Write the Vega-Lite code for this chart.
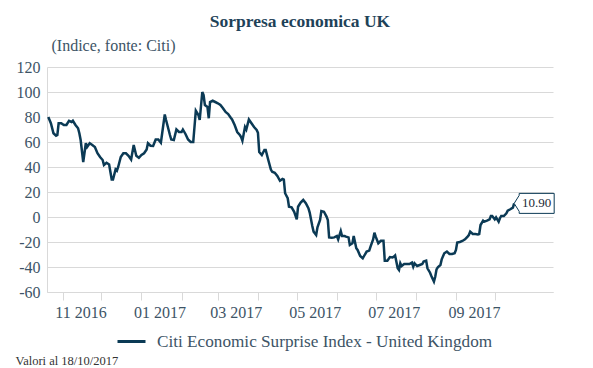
{
"$schema": "https://vega.github.io/schema/vega-lite/v6.json",
"width": 506, "height": 225,
"autosize": {"type": "none"},
"padding": {"left": 47, "top": 67, "right": 40, "bottom": 76},
"background": "white",
"config": {"font": "Liberation Serif", "view": {"stroke": null},
  "axis": {"labelFont": "Liberation Serif", "titleFont": "Liberation Serif"},
  "legend": {"labelFont": "Liberation Serif", "titleFont": "Liberation Serif"},
  "text": {"font": "Liberation Serif"}},
"title": {"text": "Sorpresa economica UK", "font": "Liberation Serif", "fontSize": 17.5, "fontWeight": "bold", "color": "#1e4258", "anchor": "middle", "frame": "group", "baseline": "alphabetic", "offset": 12, "dy": 19},
"data": {"values": [
{"date":"2016-10-21","value":80},{"date":"2016-10-23","value":75},{"date":"2016-10-25","value":67},{"date":"2016-10-27","value":65},{"date":"2016-10-28","value":65.6},{"date":"2016-10-29","value":75},{"date":"2016-10-31","value":75},
{"date":"2016-11-02","value":73.6},{"date":"2016-11-04","value":73.6},{"date":"2016-11-06","value":77},{"date":"2016-11-08","value":76},{"date":"2016-11-09","value":77},{"date":"2016-11-11","value":73.6},{"date":"2016-11-13","value":71},{"date":"2016-11-14","value":67},{"date":"2016-11-15","value":61.6},{"date":"2016-11-17","value":44},{"date":"2016-11-19","value":59},{"date":"2016-11-20","value":56},{"date":"2016-11-22","value":59},{"date":"2016-11-24","value":57.6},{"date":"2016-11-26","value":56},{"date":"2016-11-28","value":51},{"date":"2016-11-30","value":48},
{"date":"2016-12-02","value":45.6},{"date":"2016-12-03","value":41.6},{"date":"2016-12-05","value":43.4},{"date":"2016-12-07","value":42},{"date":"2016-12-09","value":30},{"date":"2016-12-10","value":30},{"date":"2016-12-12","value":38},{"date":"2016-12-13","value":37},{"date":"2016-12-14","value":40},{"date":"2016-12-16","value":48},{"date":"2016-12-18","value":51},{"date":"2016-12-20","value":51},{"date":"2016-12-22","value":49},{"date":"2016-12-24","value":46},{"date":"2016-12-26","value":57.6},{"date":"2016-12-28","value":49},{"date":"2016-12-30","value":47.4},
{"date":"2017-01-01","value":49.6},{"date":"2017-01-03","value":51},{"date":"2017-01-05","value":54},{"date":"2017-01-06","value":59},{"date":"2017-01-08","value":57},{"date":"2017-01-10","value":56.8},{"date":"2017-01-12","value":62},{"date":"2017-01-14","value":62},{"date":"2017-01-16","value":59.4},{"date":"2017-01-17","value":67},{"date":"2017-01-19","value":82},{"date":"2017-01-20","value":77.6},{"date":"2017-01-23","value":65.6},{"date":"2017-01-24","value":62},{"date":"2017-01-26","value":61.6},{"date":"2017-01-28","value":70},{"date":"2017-01-30","value":68},
{"date":"2017-02-01","value":68},{"date":"2017-02-02","value":70},{"date":"2017-02-04","value":66.4},{"date":"2017-02-06","value":62},{"date":"2017-02-08","value":60},{"date":"2017-02-10","value":60},{"date":"2017-02-12","value":85},{"date":"2017-02-14","value":81.6},{"date":"2017-02-15","value":77.6},{"date":"2017-02-17","value":100},{"date":"2017-02-18","value":97.6},{"date":"2017-02-19","value":89.6},{"date":"2017-02-21","value":88},{"date":"2017-02-22","value":79},{"date":"2017-02-23","value":92},{"date":"2017-02-25","value":93},{"date":"2017-02-27","value":92},
{"date":"2017-03-01","value":91},{"date":"2017-03-03","value":89.6},{"date":"2017-03-05","value":87},{"date":"2017-03-07","value":84},{"date":"2017-03-09","value":82.4},{"date":"2017-03-11","value":79.4},{"date":"2017-03-12","value":78},{"date":"2017-03-14","value":73.6},{"date":"2017-03-16","value":68},{"date":"2017-03-18","value":65.6},{"date":"2017-03-19","value":64},{"date":"2017-03-20","value":61},{"date":"2017-03-22","value":72},{"date":"2017-03-23","value":70},{"date":"2017-03-25","value":78},{"date":"2017-03-27","value":75},{"date":"2017-03-29","value":72},{"date":"2017-03-31","value":69.6},
{"date":"2017-04-01","value":67.4},{"date":"2017-04-02","value":52},{"date":"2017-04-04","value":49.6},{"date":"2017-04-06","value":53.6},{"date":"2017-04-07","value":53.6},{"date":"2017-04-09","value":45.6},{"date":"2017-04-11","value":38},{"date":"2017-04-12","value":36.2},{"date":"2017-04-14","value":35.4},{"date":"2017-04-16","value":32.8},{"date":"2017-04-18","value":29},{"date":"2017-04-20","value":30.5},{"date":"2017-04-21","value":30},{"date":"2017-04-22","value":19},{"date":"2017-04-24","value":15},{"date":"2017-04-25","value":8.2},{"date":"2017-04-27","value":7.7},{"date":"2017-04-29","value":4.2},
{"date":"2017-05-01","value":-1.9},{"date":"2017-05-02","value":8.2},{"date":"2017-05-04","value":11.5},{"date":"2017-05-06","value":13.6},{"date":"2017-05-08","value":11},{"date":"2017-05-10","value":7},{"date":"2017-05-11","value":3.5},{"date":"2017-05-13","value":-7.2},{"date":"2017-05-14","value":-11.7},{"date":"2017-05-16","value":-14.4},{"date":"2017-05-17","value":-8.3},{"date":"2017-05-19","value":-2.4},{"date":"2017-05-20","value":4.8},{"date":"2017-05-22","value":4.2},{"date":"2017-05-24","value":0.3},{"date":"2017-05-25","value":-2.4},{"date":"2017-05-26","value":-16.3},{"date":"2017-05-28","value":-16.5},{"date":"2017-05-30","value":-16.3},
{"date":"2017-06-01","value":-15.2},{"date":"2017-06-02","value":-17.9},{"date":"2017-06-04","value":-11.2},{"date":"2017-06-05","value":-15.2},{"date":"2017-06-07","value":-15.2},{"date":"2017-06-08","value":-15.7},{"date":"2017-06-10","value":-16.3},{"date":"2017-06-11","value":-22.4},{"date":"2017-06-13","value":-21},{"date":"2017-06-14","value":-15.2},{"date":"2017-06-16","value":-25},{"date":"2017-06-17","value":-26.4},{"date":"2017-06-19","value":-31.2},{"date":"2017-06-21","value":-33},{"date":"2017-06-22","value":-31.2},{"date":"2017-06-24","value":-27.7},{"date":"2017-06-26","value":-26.9},{"date":"2017-06-27","value":-23.7},{"date":"2017-06-29","value":-17.9},{"date":"2017-06-30","value":-12.5},
{"date":"2017-07-01","value":-15.7},{"date":"2017-07-03","value":-21},{"date":"2017-07-05","value":-19},{"date":"2017-07-07","value":-19},{"date":"2017-07-08","value":-35},{"date":"2017-07-10","value":-35},{"date":"2017-07-12","value":-32},{"date":"2017-07-14","value":-32.3},{"date":"2017-07-15","value":-31.8},{"date":"2017-07-16","value":-30.8},{"date":"2017-07-18","value":-41},{"date":"2017-07-19","value":-42.4},{"date":"2017-07-20","value":-37},{"date":"2017-07-21","value":-39.2},{"date":"2017-07-23","value":-37.6},{"date":"2017-07-25","value":-37.6},{"date":"2017-07-27","value":-37.6},{"date":"2017-07-29","value":-36.5},{"date":"2017-07-30","value":-39.7},{"date":"2017-07-31","value":-37},
{"date":"2017-08-02","value":-39.2},{"date":"2017-08-04","value":-38.4},{"date":"2017-08-06","value":-37.6},{"date":"2017-08-07","value":-35.7},{"date":"2017-08-09","value":-35},{"date":"2017-08-10","value":-41},{"date":"2017-08-12","value":-44.6},{"date":"2017-08-13","value":-47.2},{"date":"2017-08-15","value":-51.7},{"date":"2017-08-16","value":-47.8},{"date":"2017-08-17","value":-41.9},{"date":"2017-08-18","value":-40.2},{"date":"2017-08-20","value":-38.4},{"date":"2017-08-21","value":-33.9},{"date":"2017-08-23","value":-29},{"date":"2017-08-25","value":-27.7},{"date":"2017-08-27","value":-29.6},{"date":"2017-08-29","value":-29.6},{"date":"2017-08-31","value":-29},
{"date":"2017-09-01","value":-26.4},{"date":"2017-09-02","value":-20.5},{"date":"2017-09-04","value":-20},{"date":"2017-09-06","value":-19.2},{"date":"2017-09-08","value":-17.9},{"date":"2017-09-10","value":-15.7},{"date":"2017-09-11","value":-14.4},{"date":"2017-09-12","value":-11.7},{"date":"2017-09-14","value":-13.6},{"date":"2017-09-16","value":-13.6},{"date":"2017-09-18","value":-13.9},{"date":"2017-09-19","value":-13.6},{"date":"2017-09-20","value":-6.4},{"date":"2017-09-22","value":-2.9},{"date":"2017-09-23","value":-3.7},{"date":"2017-09-25","value":-2.9},{"date":"2017-09-27","value":-1.9},{"date":"2017-09-28","value":0.8},{"date":"2017-09-29","value":0.8},
{"date":"2017-10-01","value":-1.9},{"date":"2017-10-02","value":-0.3},{"date":"2017-10-04","value":-3.7},{"date":"2017-10-05","value":-1},{"date":"2017-10-06","value":0.8},{"date":"2017-10-08","value":0.8},{"date":"2017-10-10","value":3},{"date":"2017-10-11","value":5},{"date":"2017-10-13","value":6.2},{"date":"2017-10-15","value":7.5},{"date":"2017-10-16","value":10.9}
]},
"encoding": {
  "x": {"field": "date", "type": "temporal",
    "scale": {"type": "utc", "domain": [{"year": 2016, "month": 10, "date": 20, "utc": true}, {"year": 2017, "month": 11, "date": 15, "utc": true}]},
    "axis": {"title": "Valori al 18/10/2017",
      "values": [{"year": 2016, "month": 11, "date": 1, "utc": true}, {"year": 2016, "month": 12, "date": 1, "utc": true}, {"year": 2017, "month": 1, "date": 1, "utc": true}, {"year": 2017, "month": 2, "date": 1, "utc": true}, {"year": 2017, "month": 3, "date": 1, "utc": true}, {"year": 2017, "month": 4, "date": 1, "utc": true}, {"year": 2017, "month": 5, "date": 1, "utc": true}, {"year": 2017, "month": 6, "date": 1, "utc": true}, {"year": 2017, "month": 7, "date": 1, "utc": true}, {"year": 2017, "month": 8, "date": 1, "utc": true}, {"year": 2017, "month": 9, "date": 1, "utc": true}, {"year": 2017, "month": 10, "date": 1, "utc": true}],
      "labelExpr": "utcmonth(datum.value) % 2 == 0 ? utcFormat(datum.value, '%m %Y') : ''",
      "labelFont": "Liberation Serif", "titleFont": "Liberation Serif",
      "labelOffset": 18, "labelFontSize": 16, "labelColor": "#3d5466", "labelPadding": 4, "labelFlush": false, "labelOverlap": false,
      "tickSize": 8, "tickColor": "#d9d9d9", "domainColor": "#d9d9d9", "grid": false,
      "titleX": -32, "titleY": 72, "titleAlign": "left", "titleBaseline": "alphabetic", "titleFontSize": 12.5, "titleFontWeight": "normal", "titleColor": "#333333"}},
  "y": {"field": "value", "type": "quantitative",
    "scale": {"domain": [-60, 120], "nice": false, "zero": false},
    "axis": {"title": "(Indice, fonte: Citi)", "values": [-60, -40, -20, 0, 20, 40, 60, 80, 100, 120],
      "labelExpr": "'' + datum.value",
      "labelFont": "Liberation Serif", "titleFont": "Liberation Serif",
      "grid": true, "gridColor": "#d9d9d9", "ticks": false, "domainColor": "#d9d9d9",
      "labelFontSize": 16, "labelColor": "#3d5466", "labelPadding": 7,
      "titleAngle": 0, "titleAlign": "left", "titleBaseline": "alphabetic", "titleX": 4, "titleY": -17,
      "titleFontSize": 16, "titleFontWeight": "normal", "titleColor": "#3d5466"}}
},
"layer": [
  {"mark": {"type": "line", "strokeWidth": 2.5},
   "encoding": {"color": {"datum": "Citi Economic Surprise Index - United Kingdom", "scale": {"range": ["#0b3a55"]},
     "legend": {"title": null, "orient": "none", "legendX": 69, "legendY": 259, "symbolType": "stroke", "symbolSize": 784, "symbolStrokeWidth": 3,
       "labelFont": "Liberation Serif", "labelFontSize": 17.2, "labelColor": "#3d5466", "labelOffset": 10, "labelLimit": 600, "padding": 0}}}},
  {"transform": [{"filter": "datum.value == 10.9"}],
   "mark": {"type": "point", "shape": "M0,0L0.5,-0.8L0.5,-1L4,-1L4,1L0.5,1L0.5,0.8Z", "size": 400, "filled": true, "fill": "white", "stroke": "#0b3a55", "strokeWidth": 1, "opacity": 1}},
  {"transform": [{"filter": "datum.value == 10.9"}],
   "mark": {"type": "text", "font": "Liberation Serif", "dx": 22.5, "align": "center", "baseline": "middle", "fontSize": 13, "color": "#1a2a36"},
   "encoding": {"text": {"field": "value", "type": "quantitative", "format": ".2f"}}}
]
}
